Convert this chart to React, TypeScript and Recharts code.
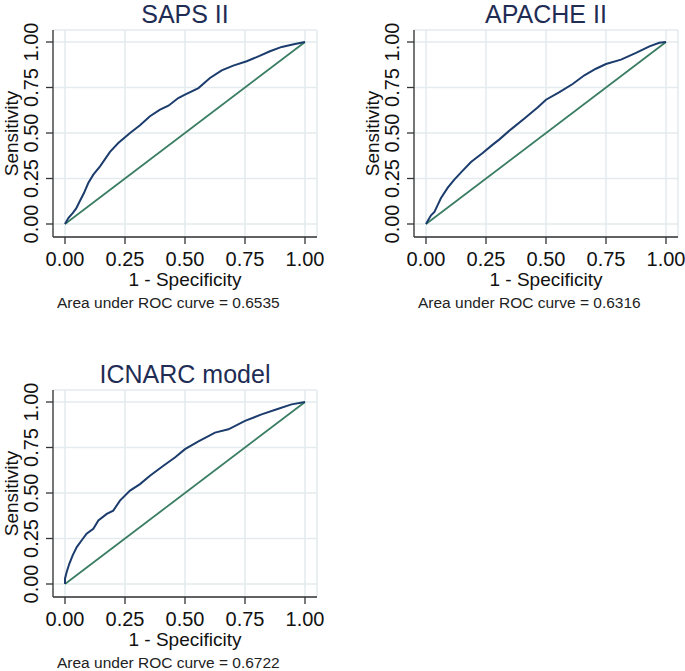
import { LineChart, Line, XAxis, YAxis, CartesianGrid } from 'recharts';

// SAPS II
const sapsFpr = [0, 0.014, 0.032, 0.046, 0.0625, 0.079, 0.097, 0.118, 0.146, 0.1875, 0.222, 0.271, 0.3125, 0.354, 0.396, 0.431, 0.472, 0.5, 0.556, 0.604, 0.653, 0.701, 0.757, 0.806, 0.854, 0.903, 0.958, 1];
const sapsTpr = [0, 0.033, 0.06, 0.084, 0.128, 0.17, 0.225, 0.271, 0.317, 0.396, 0.445, 0.5, 0.542, 0.592, 0.628, 0.65, 0.692, 0.711, 0.747, 0.802, 0.844, 0.87, 0.894, 0.921, 0.949, 0.973, 0.989, 1];

// APACHE II
const apacheFpr = [0, 0.01, 0.021, 0.035, 0.046, 0.0625, 0.09, 0.118, 0.153, 0.1875, 0.236, 0.278, 0.306, 0.354, 0.41, 0.465, 0.5, 0.556, 0.611, 0.66, 0.708, 0.75, 0.8125, 0.875, 0.931, 0.972, 1];
const apacheTpr = [0, 0.024, 0.048, 0.066, 0.097, 0.143, 0.198, 0.244, 0.293, 0.341, 0.39, 0.436, 0.465, 0.52, 0.58, 0.64, 0.683, 0.725, 0.769, 0.817, 0.853, 0.879, 0.903, 0.94, 0.976, 0.996, 1];

// ICNARC model
const icnarcFpr = [0, 0, 0.007, 0.018, 0.032, 0.049, 0.069, 0.09, 0.118, 0.139, 0.174, 0.201, 0.229, 0.271, 0.3125, 0.354, 0.41, 0.458, 0.5, 0.556, 0.625, 0.681, 0.75, 0.819, 0.889, 0.944, 1];
const icnarcTpr = [0, 0.029, 0.066, 0.111, 0.157, 0.203, 0.239, 0.276, 0.303, 0.349, 0.385, 0.403, 0.458, 0.513, 0.549, 0.595, 0.65, 0.695, 0.741, 0.783, 0.832, 0.85, 0.896, 0.932, 0.963, 0.987, 1];

const diagX = [0, 1];
const axisTicks = [0, 0.25, 0.5, 0.75, 1];

const FONT = '"Liberation Sans", Arial, sans-serif';
const W = 324;
const H = 320;

const fmt = (v: number) => v.toFixed(2);

const RotTick = (props: any) => {
  const { x, y, payload } = props;
  return (
    <text
      x={x}
      y={y}
      transform={`rotate(-90, ${x}, ${y})`}
      textAnchor="middle"
      fontSize={20}
      fill="#111"
      fontFamily={FONT}
    >
      {fmt(payload.value)}
    </text>
  );
};

interface PanelProps {
  title: string;
  fpr: number[];
  tpr: number[];
  auc: string;
  left: number;
  top: number;
}

const Panel = ({ title, fpr, tpr, auc, left, top }: PanelProps) => {
  const roc = fpr.map((x, i) => ({ x, y: tpr[i] }));
  const diag = diagX.map((x) => ({ x, y: x }));
  return (
    <div style={{ position: 'absolute', left, top, width: W, height: H }}>
      <LineChart width={W} height={H} margin={{ top: 30, right: 7, bottom: 33, left: 0 }}>
        <CartesianGrid stroke="#e3ebee" strokeWidth={1.5} />
        <XAxis
          type="number"
          dataKey="x"
          domain={[0, 1]}
          ticks={axisTicks}
          tickFormatter={fmt}
          padding={{ left: 12, right: 12 }}
          tickSize={7}
          tickMargin={8}
          height={50}
          stroke="#333"
          strokeWidth={1.3}
          tick={{ fill: '#111', fontSize: 20, fontFamily: FONT }}
        />
        <YAxis
          type="number"
          dataKey="y"
          domain={[0, 1]}
          ticks={axisTicks}
          width={53}
          padding={{ top: 12, bottom: 13 }}
          tickSize={7}
          tickMargin={8}
          stroke="#333"
          strokeWidth={1.3}
          tick={<RotTick />}
        />
        <Line data={diag} dataKey="y" type="linear" stroke="#3a7d63" strokeWidth={1.8} dot={false} isAnimationActive={false} />
        <Line data={roc} dataKey="y" type="linear" stroke="#1b3c6c" strokeWidth={2} dot={false} isAnimationActive={false} />
      </LineChart>
      <svg width={W} height={H} style={{ position: 'absolute', left: 0, top: 0, pointerEvents: 'none', overflow: 'visible' }}>
        <text x={185} y={23} textAnchor="middle" fontSize={25} fill="#1f2d55" fontFamily={FONT}>
          {title}
        </text>
        <text x={185} y={286} textAnchor="middle" fontSize={19} fill="#111" fontFamily={FONT}>
          1 - Specificity
        </text>
        <text x={17.5} y={133.5} transform="rotate(-90, 17.5, 133.5)" textAnchor="middle" fontSize={19} fill="#111" fontFamily={FONT}>
          Sensitivity
        </text>
        <text x={57} y={308} fontSize={15.5} fill="#222" fontFamily={FONT}>
          {`Area under ROC curve = ${auc}`}
        </text>
      </svg>
    </div>
  );
};

export default function App() {
  return (
    <div style={{ position: 'absolute', left: 0, top: 0, width: 685, height: 671, overflow: 'hidden', background: '#fff' }}>
      <Panel title="SAPS II" fpr={sapsFpr} tpr={sapsTpr} auc="0.6535" left={0} top={0} />
      <Panel title="APACHE II" fpr={apacheFpr} tpr={apacheTpr} auc="0.6316" left={361} top={0} />
      <Panel title="ICNARC model" fpr={icnarcFpr} tpr={icnarcTpr} auc="0.6722" left={0} top={360} />
    </div>
  );
}
